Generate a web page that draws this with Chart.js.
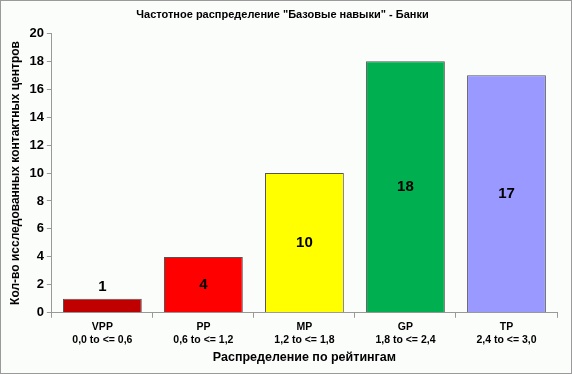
<!DOCTYPE html>
<html>
<head>
<meta charset="utf-8">
<script src="https://cdn.jsdelivr.net/npm/chart.js@4"></script>
<style>
  html, body { margin: 0; padding: 0; background: #fff; }
  #wrap {
    width: 572px; height: 374px; box-sizing: border-box;
    border: 1px solid #9a9a9a; background: #fbfdfb; position: relative;
  }
</style>
</head>
<body>
<div id="wrap"><canvas id="chart" width="570" height="372"></canvas></div>
<script>
const codes = ["VPP", "PP", "MP", "GP", "TP"];
const ranges = ["0,0 to <= 0,6", "0,6 to <= 1,2", "1,2 to <= 1,8", "1,8 to <= 2,4", "2,4 to <= 3,0"];
const values = [1, 4, 10, 18, 17];
const barColors = ["#c00000", "#ff0000", "#ffff00", "#00b050", "#9999ff"];
const yTicks = [0, 2, 4, 6, 8, 10, 12, 14, 16, 18, 20];

const FONT = "'Liberation Sans', Arial, sans-serif";

// value labels: centred in the bar, or above it when the bar is too short
const valueLabels = {
    id: "valueLabels",
    afterDatasetsDraw(chart) {
        const ctx = chart.ctx;
        const meta = chart.getDatasetMeta(0);
        ctx.save();
        ctx.font = "bold 15px " + FONT;
        ctx.fillStyle = "#000";
        ctx.textAlign = "center";
        ctx.textBaseline = "middle";
        meta.data.forEach((bar, i) => {
            const h = bar.base - bar.y;
            const y = h < 24 ? bar.y - 12 : bar.y + h / 2;
            ctx.fillText(String(values[i]), bar.x, y);
        });
        ctx.restore();
    }
};

const ctx = document.getElementById("chart");
new Chart(ctx, {
    type: "bar",
    data: {
        labels: codes.map((c, i) => [c, ranges[i]]),
        datasets: [{
            data: values,
            backgroundColor: barColors,
            borderColor: "#555",
            borderWidth: 1,
            categoryPercentage: 1,
            barPercentage: 0.78
        }]
    },
    options: {
        responsive: false,
        animation: false,
        layout: { padding: { left: 7, right: 14, top: 0, bottom: 8 } },
        plugins: {
            legend: { display: false },
            tooltip: { enabled: false },
            title: {
                display: true,
                text: "Частотное распределение \"Базовые навыки\" - Банки",
                color: "#000",
                font: { family: FONT, size: 11, weight: "bold" },
                padding: { top: 7, bottom: 12 }
            }
        },
        scales: {
            x: {
                grid: { display: true, drawOnChartArea: false, offset: true, tickLength: 5, color: "#999" },
                border: { display: true, color: "#999" },
                ticks: { color: "#000", font: { family: FONT, size: 10.5, weight: "bold" }, padding: 3, maxRotation: 0 },
                title: {
                    display: true, text: "Распределение по рейтингам", color: "#000",
                    font: { family: FONT, size: 12.5, weight: "bold" }, padding: { top: 1, bottom: 0 }
                }
            },
            y: {
                min: 0, max: 20,
                afterBuildTicks: axis => { axis.ticks = yTicks.map(v => ({ value: v })); },
                grid: { display: true, drawOnChartArea: false, tickLength: 5, color: "#999" },
                border: { display: true, color: "#999" },
                ticks: { color: "#000", font: { family: FONT, size: 13, weight: "bold" }, padding: 3 },
                title: {
                    display: true, text: "Кол-во исследованных контактных центров", color: "#000",
                    font: { family: FONT, size: 12, weight: "bold" }, padding: { top: 0, bottom: 4 }
                }
            }
        }
    },
    plugins: [valueLabels]
});
</script>
</body>
</html>
